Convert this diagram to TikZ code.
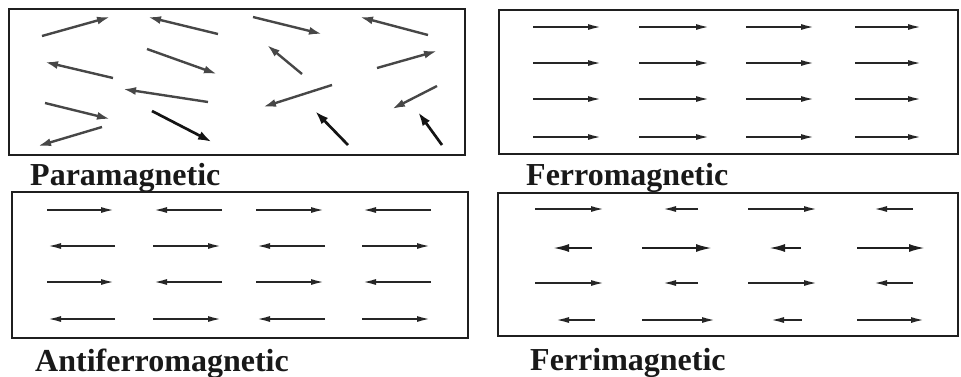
\documentclass[tikz,border=0pt]{standalone}
\usepackage{fontspec}
\setmainfont{Liberation Serif}
\usetikzlibrary{arrows.meta}
\begin{document}
\begin{tikzpicture}[x=1pt,y=-1pt,
  panel/.style={draw=black!88, line width=2.8pt},
  label/.style={anchor=base west, inner sep=0pt, text=black!90,
                font=\bfseries\fontsize{32}{36}\selectfont},
  spin/.style={draw=black!72, line width=2.4pt,
               -{Latex[length=13pt,width=8pt]}},
  bold spin/.style={draw=black!92, line width=2.7pt,
               -{Latex[length=14pt,width=9pt]}},
  bar/.style={draw=black!85, line width=2.1pt,
              -{Latex[length=14pt,width=6pt]}},
  big bar/.style={draw=black!88, line width=2.1pt,
              -{Latex[length=16pt,width=8pt]}}
]
\useasboundingbox (0,0) rectangle (961,376);

% panels
\draw[panel] (9,9) rectangle (465,155);
\draw[panel] (499,10) rectangle (958,154);
\draw[panel] (12,192) rectangle (468,338);
\draw[panel] (498,193) rectangle (958,336);

% labels
\node[label] (para)  at (30,185)  {Paramagnetic};
\node[label] (ferro) at (526,185) {Ferromagnetic};
\node[label] (anti)  at (35,371)  {Antiferromagnetic};
\node[label] (ferri) at (530,370) {Ferrimagnetic};

% paramagnetic: randomly oriented moments
\foreach \ax/\ay/\bx/\by in {
  42/36/110/17, 218/34/148/17, 253/17/322/34, 428/35/360/17,
  147/49/217/74, 113/78/45/62, 302/74/267/45, 377/68/437/51,
  208/102/123/89, 332/85/263/107, 437/86/392/109,
  45/103/110/119, 102/127/38/146}
  \draw[spin] (\ax,\ay) -- (\bx,\by);
\foreach \ax/\ay/\bx/\by in {
  152/111/212/142, 348/145/315/111, 442/145/418/112}
  \draw[bold spin] (\ax,\ay) -- (\bx,\by);

% ferromagnetic: all moments parallel
\foreach \y in {27,63,99,137}
  \foreach \xa/\xb in {533/602, 639/710, 746/815, 855/922}
    \draw[bar] (\xa,\y) -- (\xb,\y);

% antiferromagnetic: equal moments, alternating
\foreach \y/\s in {210/0, 246/1, 282/0, 319/1}
  \foreach \xa/\xb/\c in {47/115/0, 153/222/1, 256/325/0, 362/431/1} {
    \pgfmathtruncatemacro{\flip}{mod(\s+\c,2)}
    \ifnum\flip=0
      \draw[bar] (\xa,\y) -- (\xb,\y);
    \else
      \draw[bar] (\xb,\y) -- (\xa,\y);
    \fi
  }

% ferrimagnetic: unequal moments, alternating
\foreach \y in {209,283} {
  \draw[bar] (535,\y) -- (605,\y);
  \draw[bar] (698,\y) -- (662,\y);
  \draw[bar] (748,\y) -- (818,\y);
  \draw[bar] (913,\y) -- (873,\y);
}
\draw[big bar] (592,248) -- (553,248);
\draw[big bar] (642,248) -- (712,248);
\draw[big bar] (801,248) -- (769,248);
\draw[big bar] (857,248) -- (925,248);
\draw[bar] (595,320) -- (555,320);
\draw[bar] (642,320) -- (716,320);
\draw[bar] (802,320) -- (770,320);
\draw[bar] (857,320) -- (925,320);
\end{tikzpicture}
\end{document}
